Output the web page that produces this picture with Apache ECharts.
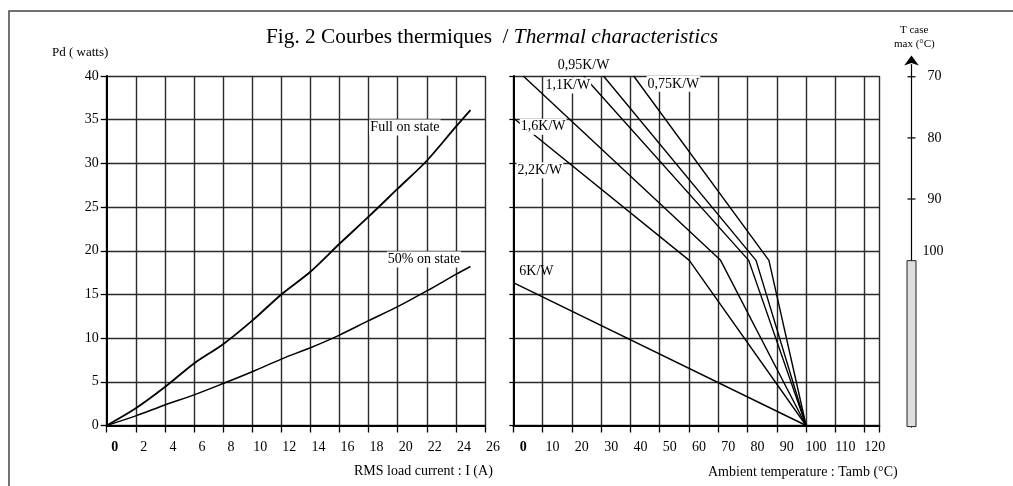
<!DOCTYPE html>
<html>
<head>
<meta charset="utf-8">
<script src="https://cdn.jsdelivr.net/npm/echarts@6/dist/echarts.min.js"></script>
<style>
  html, body { margin: 0; padding: 0; background: #fff; }
  #chart { width: 1013px; height: 486px; }
</style>
</head>
<body>
<div id="chart"></div>
<script>
// courbe Pd = f(I)
var loadCurrent = [0, 2, 4, 6, 8, 10, 12, 14, 16, 18, 20, 22, 24, 25];
var fullOnPd = [0, 1.97, 4.4, 7.1, 9.3, 12.0, 15.0, 17.6, 20.8, 23.9, 27.1, 30.3, 34.2, 36.1];
var halfOnPd = [0, 1.1, 2.35, 3.5, 4.8, 6.15, 7.6, 8.9, 10.35, 12.0, 13.6, 15.4, 17.3, 18.2];

// droites Rth : Pd = f(Tamb)
var rthNames = ['2,2K/W', '1,6K/W', '1,1K/W', '0,95K/W', '0,75K/W', '6K/W'];
var rthTamb = [[0, 60.1, 100], [3.4, 70.8, 100], [24.0, 80.4, 100], [30.8, 82.9, 100], [41.1, 87.3, 100], [0, 100]];
var rthPd = [[35.2, 18.9, 0], [40, 18.9, 0], [40, 18.9, 0], [40, 18.9, 0], [40, 18.9, 0], [16.35, 0]];

// echelle T case
var tcaseTicks = [70, 80, 90];
var tcaseLabelValues = [70, 80, 90, 100];
var tcaseBand = [100, 127.3];

var serif = "'Liberation Serif', 'Times New Roman', serif";
var gridColor = '#2a2a2a';

var myChart = echarts.init(document.getElementById('chart'));

function boldZero(v) {
  if (v > 120) return '';
  return v === 0 ? '{b|0}' : String(v);
}

function curveLabel(text, coord, bg, offset) {
  return {
    symbol: 'rect',
    symbolSize: 1,
    itemStyle: { color: 'rgba(0,0,0,0)' },
    label: {
      show: true,
      position: 'inside',
      offset: offset || [0, 0],
      formatter: text,
      color: '#000',
      fontFamily: serif,
      fontSize: 14,
      lineHeight: 15,
      backgroundColor: bg === false ? 'transparent' : '#fff',
      padding: [1, 1, 0, 1]
    },
    data: [{ coord: coord }]
  };
}

// position des etiquettes (Tamb, Pd) + decalage eventuel
var rthLabelPos = {
  '2,2K/W': [[9.1, 29.2]],
  '1,6K/W': [[10.2, 34.2]],
  '1,1K/W': [[18.6, 38.9]],
  '0,95K/W': [[24.0, 39.5], [0, -15.4]],
  '0,75K/W': [[54.7, 39.1]],
  '6K/W': [[7.9, 17.6]]
};

var series = [
  {
    name: 'Full on state',
    type: 'line',
    xAxisIndex: 0, yAxisIndex: 0,
    data: loadCurrent.map(function (x, i) { return [x, fullOnPd[i]]; }),
    symbol: 'none',
    smooth: 0.3,
    lineStyle: { color: '#000', width: 1.8 },
    markPoint: curveLabel('Full on state', [20.5, 34.1])
  },
  {
    name: '50% on state',
    type: 'line',
    xAxisIndex: 0, yAxisIndex: 0,
    data: loadCurrent.map(function (x, i) { return [x, halfOnPd[i]]; }),
    symbol: 'none',
    smooth: 0.3,
    lineStyle: { color: '#000', width: 1.5 },
    markPoint: curveLabel('50% on state', [21.8, 19.0])
  }
];

rthNames.forEach(function (name, k) {
  var pos = rthLabelPos[name];
  series.push({
    name: name,
    type: 'line',
    xAxisIndex: 1, yAxisIndex: 1,
    data: rthTamb[k].map(function (t, j) { return [t, rthPd[k][j]]; }),
    symbol: 'none',
    lineStyle: { color: '#000', width: 1.4 },
    markPoint: curveLabel(name, pos[0], name !== '6K/W' && name !== '0,95K/W', pos[1])
  });
});

// rectangle T case max
series.push({
  type: 'bar',
  xAxisIndex: 2, yAxisIndex: 2,
  stack: 'tc',
  barWidth: 10,
  itemStyle: { color: 'rgba(0,0,0,0)' },
  data: [tcaseBand[0]]
});
series.push({
  type: 'bar',
  xAxisIndex: 2, yAxisIndex: 2,
  stack: 'tc',
  barWidth: 10,
  itemStyle: { color: '#dedede', borderColor: '#222', borderWidth: 1 },
  data: [tcaseBand[1] - tcaseBand[0]]
});
series.push({
  type: 'scatter',
  xAxisIndex: 2, yAxisIndex: 2,
  symbol: 'rect',
  symbolSize: [8, 1.3],
  itemStyle: { color: '#111', opacity: 1 },
  label: {
    show: true,
    position: 'right',
    distance: 12,
    color: '#000',
    fontFamily: serif,
    fontSize: 14,
    formatter: function (p) { return p.value[1]; }
  },
  data: tcaseLabelValues.map(function (v) {
    var item = { value: [0, v] };
    if (tcaseTicks.indexOf(v) < 0) {
      item.symbolSize = 0;
      item.label = { offset: [-1, -8.5] };
    }
    return item;
  })
});

var labelRich = { b: { fontWeight: 'bold', fontFamily: serif, fontSize: 14, color: '#000' } };

var option = {
  animation: false,
  backgroundColor: '#fff',
  title: [
    {
      text: '{a|Fig. 2 Courbes thermiques  / }{b|Thermal characteristics}',
      left: 266, top: 25, padding: 0,
      textStyle: {
        fontWeight: 'normal',
        rich: {
          a: { fontFamily: serif, fontSize: 21.3, fontWeight: 'normal', color: '#000', lineHeight: 24 },
          b: { fontFamily: serif, fontSize: 21.3, fontWeight: 'normal', fontStyle: 'italic', color: '#000', lineHeight: 24 }
        }
      }
    },
    { text: 'Pd ( watts)', left: 52, top: 45, padding: 0,
      textStyle: { fontFamily: serif, fontSize: 13, fontWeight: 'normal', color: '#000', lineHeight: 16 } },
    { text: 'RMS load current : I (A)', left: 354, top: 463, padding: 0,
      textStyle: { fontFamily: serif, fontSize: 14, fontWeight: 'normal', color: '#000', lineHeight: 16 } },
    { text: 'Ambient temperature : Tamb (°C)', left: 708, top: 464, padding: 0,
      textStyle: { fontFamily: serif, fontSize: 14, fontWeight: 'normal', color: '#000', lineHeight: 16 } },
    { text: 'T case', left: 900, top: 23, padding: 0,
      textStyle: { fontFamily: serif, fontSize: 11, fontWeight: 'normal', color: '#000', lineHeight: 14 } },
    { text: 'max (°C)', left: 894, top: 37, padding: 0,
      textStyle: { fontFamily: serif, fontSize: 11, fontWeight: 'normal', color: '#000', lineHeight: 14 } }
  ],
  graphic: [
    { type: 'rect', silent: true, shape: { x: 9, y: 11, width: 1100, height: 600 },
      style: { fill: 'none', stroke: '#444', lineWidth: 1.5 } }
  ],
  grid: [
    { left: 106.7, top: 76, width: 378.3, height: 349.5, outerBoundsMode: 'none' },
    { left: 513.3, top: 76, width: 366, height: 349.5, outerBoundsMode: 'none' },
    { left: 906, top: 64.5, width: 11, height: 362.6, outerBoundsMode: 'none' }
  ],
  xAxis: [
    {
      gridIndex: 0, type: 'value', min: 0, max: 26, interval: 2,
      axisLine: { lineStyle: { color: '#000', width: 2 } },
      axisTick: { length: 7, lineStyle: { color: '#000', width: 1.3 } },
      axisLabel: { margin: 15, color: '#000', fontFamily: serif, fontSize: 14,
        padding: [0, 0, 0, 16], formatter: boldZero, rich: labelRich },
      splitLine: { show: true, lineStyle: { color: gridColor, width: 1.4 } }
    },
    {
      gridIndex: 1, type: 'value', min: 0, max: 125, interval: 10,
      axisLine: { lineStyle: { color: '#000', width: 2 } },
      axisTick: { length: 7, lineStyle: { color: '#000', width: 1.3 } },
      axisLabel: { margin: 15, color: '#000', fontFamily: serif, fontSize: 14,
        padding: [0, 0, 0, 20], formatter: boldZero, rich: labelRich },
      splitLine: { show: true, lineStyle: { color: gridColor, width: 1.4 } }
    },
    {
      gridIndex: 2, type: 'category', data: ['T'],
      show: false
    }
  ],
  yAxis: [
    {
      gridIndex: 0, type: 'value', min: 0, max: 40, interval: 5,
      axisLine: { show: true, lineStyle: { color: '#000', width: 2 } },
      axisTick: { show: true, length: 6, lineStyle: { color: '#000', width: 1.3 } },
      axisLabel: { margin: 8, color: '#000', fontFamily: serif, fontSize: 14 },
      splitLine: { show: true, lineStyle: { color: gridColor, width: 1.4 } }
    },
    {
      gridIndex: 1, type: 'value', min: 0, max: 40, interval: 5,
      axisLine: { show: true, lineStyle: { color: '#000', width: 2 } },
      axisTick: { show: true, length: 4, lineStyle: { color: '#000', width: 1.2 } },
      axisLabel: { show: false },
      splitLine: { show: true, lineStyle: { color: gridColor, width: 1.4 } }
    },
    {
      gridIndex: 2, type: 'value', inverse: true, min: 68, max: tcaseBand[1],
      offset: -5.5,
      axisLine: { show: true, symbol: ['none', 'arrow'], symbolSize: [11, 10], symbolOffset: [0, 9],
        lineStyle: { color: '#000', width: 1.2 } },
      axisTick: { show: false },
      axisLabel: { show: false },
      splitLine: { show: false }
    }
  ],
  series: series
};

myChart.setOption(option);
</script>
</body>
</html>
